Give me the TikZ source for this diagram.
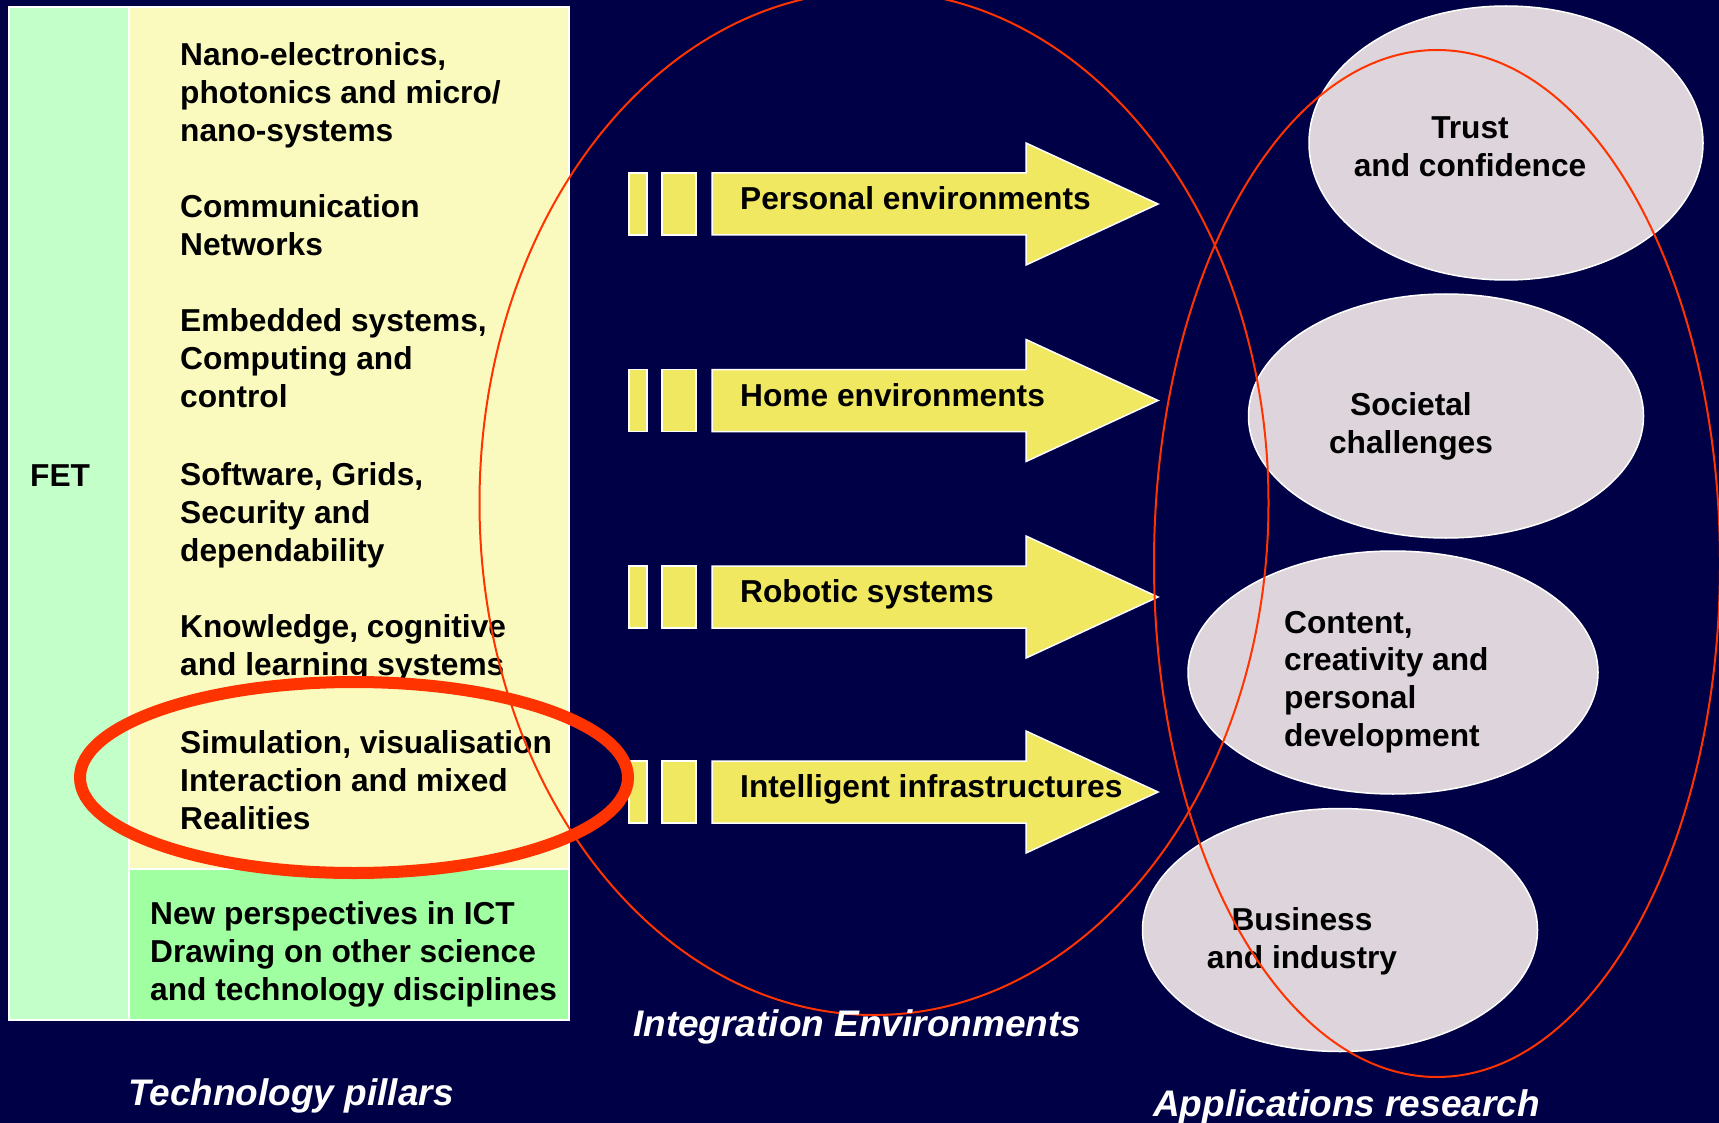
\documentclass[tikz,border=0pt]{standalone}
\usepackage{fontspec}
\setmainfont{Liberation Sans}
\usetikzlibrary{shapes.geometric}

\definecolor{navy}{RGB}{0,0,70}
\definecolor{pillar}{RGB}{250,250,190}
\definecolor{fetgreen}{RGB}{195,255,200}
\definecolor{newgreen}{RGB}{160,255,160}
\definecolor{ieyellow}{RGB}{240,232,96}
\definecolor{applgray}{RGB}{222,213,220}
\definecolor{ringred}{RGB}{255,51,0}

\def\iearrow#1#2#3{
\draw[iepart] (629,#2-31) rectangle (647,#2+31);
\draw[iepart] (662,#2-31) rectangle (696,#2+31);
\draw[iepart] (712,#2-31) -- (1026,#2-31) -- (1026,#2-61) -- (1158,#2)
  -- (1026,#2+61) -- (1026,#2+31) -- (712,#2+31) -- cycle;
\node[anchor=base west] (#1) at (740,#2+5.5) {#3};
}
\def\bigfont{\fontsize{37}{44}\selectfont\bfseries\itshape}

\begin{document}
\begin{tikzpicture}[x=1pt, y=-1pt, inner sep=0pt,
  font=\fontsize{31.7}{37.8}\selectfont\bfseries,
  box/.style={draw=white, line width=1.5pt},
  iepart/.style={fill=ieyellow, draw=white, line width=1.5pt},
  ring/.style={draw=ringred, line width=2pt}]

\fill[navy] (0,0) rectangle (1719,1123);
\useasboundingbox (0,0) rectangle (1719,1123);

\draw[box, fill=fetgreen] (9,7) rectangle (129,1020);
\draw[box, fill=pillar] (129,7) rectangle (569,869);
\draw[box, fill=newgreen] (129,869) rectangle (569,1020);

\node[anchor=base west] (fet) at (30,486) {FET};

\begin{scope}[every node/.style={anchor=north west, align=left}]
\node (nano) at (180,65-22.7) {Nano-electronics,\\photonics and micro/\\nano-systems};
\node (comm) at (180,217-22.7) {Communication\\Networks};
\node (embed) at (180,331-22.7) {Embedded systems,\\Computing and\\control};
\node (soft) at (180,485-22.7) {Software, Grids,\\Security and\\dependability};
\node (know) at (180,637-22.7) {Knowledge, cognitive\\and learning systems};
\node (sim) at (180,753-22.7) {Simulation, visualisation\\Interaction and mixed\\Realities};
\node (newp) at (150,924-22.7) {New perspectives in ICT\\Drawing on other science\\and technology disciplines};
\end{scope}

\iearrow{pers}{204}{Personal environments}
\iearrow{home}{400.5}{Home environments}
\iearrow{robot}{597}{Robotic systems}
\iearrow{infra}{792}{Intelligent infrastructures}

\begin{scope}[every node/.style={ellipse, fill=applgray, draw=white, line width=1.5pt}]
\node[minimum width=394, minimum height=274] (trust) at (1506,143) {};
\node[minimum width=395, minimum height=244] (soc) at (1446,416) {};
\node[minimum width=410, minimum height=243] (content) at (1393,672.5) {};
\node[minimum width=395, minimum height=243] (business) at (1340,930) {};
\end{scope}

\begin{scope}[every node/.style={align=center}]
\node (trusttxt) at (1470,146.5) {Trust\\and confidence};
\node (soctxt) at (1411,426.5) {Societal\\challenges};
\node[anchor=west, align=left] (contenttxt) at (1284,682) {Content,\\creativity and\\personal\\development};
\node (businesstxt) at (1302,941) {Business\\and industry};
\end{scope}

\draw[ring] (874,503) ellipse [x radius=394.5pt, y radius=512pt];
\draw[ring] (1437,563.5) ellipse [x radius=283pt, y radius=513.5pt];
\draw[draw=ringred, line width=12pt] (354,777.5) ellipse [x radius=274pt, y radius=95.5pt];

\begin{scope}[every node/.style={anchor=base west, font=\bigfont, text=white}]
\node (techlab) at (128,1105) {Technology pillars};
\node (intlab) at (633,1036) {Integration Environments};
\node (appllab) at (1153,1116) {Applications research};
\end{scope}

\end{tikzpicture}
\end{document}
